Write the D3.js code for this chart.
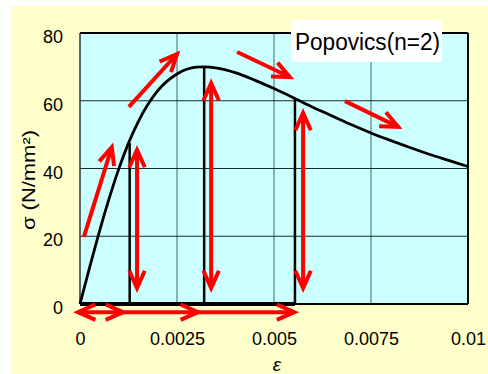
<!DOCTYPE html>
<html><head><meta charset="utf-8">
<script src="https://cdn.jsdelivr.net/npm/d3@7"></script>
<style>body{margin:0;background:#fff}svg{display:block}text{font-family:"Liberation Sans",Arial,sans-serif}</style>
</head><body><svg id="c" width="488" height="374"></svg>
<script>
// strain values (ε) and stress values (σ, N/mm²) of the Popovics curve (n=2)
const strain = [0,0.00025,0.0005,0.00075,0.001,0.00125,0.0015,0.002,0.0025,0.003,0.0032,0.0035,0.004,0.0045,0.005,0.0055,0.006,0.0065,0.007,0.0075,0.008,0.0085,0.009,0.0095,0.01];
const stress = [0,10.9,21.4,31.1,39.9,47.5,53.8,62.9,67.9,69.9,70.0,69.7,68.3,66.1,63.6,60.9,58.1,55.5,52.9,50.5,48.3,46.2,44.2,42.4,40.6];
// unloading verticals: strain and stress at top
const dropStrain = [0.00128,0.0032,0.00554];
const dropStress = [47.5,70.0,60.6];
// red arrow annotations
const arrowFrom = [[0.0001,19.8],[0.00147,4.7],[0.00126,58.2],[0.00338,4.7],[0.00405,74.4],[0.00575,4.7],[0.00683,59.9]];
const arrowTo   = [[0.00082,46.3],[0.00147,45.5],[0.0025,73.8],[0.00338,65.2],[0.00541,67.0],[0.00575,56.4],[0.0082,52.3]];
const arrowDouble = [false,true,false,true,false,true,false];
// bottom horizontal arrow chain (σ = -2.4)
const chainStrain = [-0.00005,0.00111,0.00304,0.00552];
const chainStress = -2.4;
const xTicks = [0,0.0025,0.005,0.0075,0.01];
const xTickLabels = ["0","0.0025","0.005","0.0075","0.01"];
const yTicks = [0,20,40,60,80];
const legendText = "Popovics(n=2)";

const svg = d3.select("#c");
const L=80,R=468,T=33,B=304;
const x = d3.scaleLinear().domain([0,0.01]).range([L,R]);
const y = d3.scaleLinear().domain([0,80]).range([B,T]);

svg.append("rect").attr("x",11).attr("y",6).attr("width",477).attr("height",368).attr("fill","#FFFFCC");
svg.append("rect").attr("x",L).attr("y",T).attr("width",R-L).attr("height",B-T).attr("fill","#CCFFFF");

// grid
svg.append("g").selectAll("line").data(xTicks.slice(1,-1)).join("line")
  .attr("x1",d=>x(d)).attr("x2",d=>x(d)).attr("y1",T).attr("y2",B)
  .attr("stroke","#5f7f7f").attr("stroke-width",1.2);
svg.append("g").selectAll("line").data(yTicks.slice(1,-1)).join("line")
  .attr("x1",L).attr("x2",R).attr("y1",d=>y(d)).attr("y2",d=>y(d))
  .attr("stroke","#1a2a2a").attr("stroke-width",1.2);

// border
svg.append("line").attr("x1",L).attr("x2",R).attr("y1",T).attr("y2",T).attr("stroke","#000").attr("stroke-width",2);
svg.append("line").attr("x1",R).attr("x2",R).attr("y1",T).attr("y2",B).attr("stroke","#000").attr("stroke-width",2);
svg.append("line").attr("x1",L).attr("x2",L).attr("y1",T).attr("y2",B).attr("stroke","#333").attr("stroke-width",1.5);
svg.append("line").attr("x1",L).attr("x2",R).attr("y1",B).attr("y2",B).attr("stroke","#000").attr("stroke-width",2);

// axes
const fs=18;
const ya = svg.append("g").attr("transform",`translate(${L},0)`)
  .call(d3.axisLeft(y).tickValues(yTicks).tickSize(0).tickPadding(17).tickFormat(d3.format("d")));
ya.select(".domain").remove();
ya.selectAll("text").attr("font-size",fs).attr("dy","0.54em").attr("fill","#000").style("font-family","'Liberation Sans',Arial");
const xa = svg.append("g").attr("transform",`translate(0,${B})`)
  .call(d3.axisBottom(x).tickValues(xTicks).tickSize(0).tickPadding(28).tickFormat((d,i)=>xTickLabels[i]));
xa.select(".domain").remove();
xa.selectAll("text").attr("font-size",fs).attr("fill","#000").style("font-family","'Liberation Sans',Arial");

svg.append("text").attr("transform","translate(35,180) rotate(-90)").attr("text-anchor","middle")
  .attr("font-size",18).attr("textLength",100).attr("lengthAdjust","spacingAndGlyphs").text("σ (N/mm²)");
svg.append("text").attr("x",277).attr("y",371).attr("text-anchor","middle").attr("font-size",19).attr("font-style","italic").text("ε");

// thick baseline of unloading path
svg.append("line").attr("x1",x(0)).attr("x2",x(dropStrain[2])).attr("y1",y(0)).attr("y2",y(0))
  .attr("stroke","#000").attr("stroke-width",4);
// unloading verticals
svg.append("g").selectAll("line").data(dropStrain).join("line")
  .attr("x1",d=>x(d)).attr("x2",d=>x(d)).attr("y1",y(0)).attr("y2",(d,i)=>y(dropStress[i]))
  .attr("stroke","#000").attr("stroke-width",2.5);

// curve
const line = d3.line().x((d,i)=>x(strain[i])).y((d,i)=>y(stress[i])).curve(d3.curveMonotoneX);
svg.append("path").attr("d",line(strain)).attr("fill","none").attr("stroke","#000").attr("stroke-width",2.8);

// arrows
const red="#FF0000";
function head(g,px,py,ang){
  const len=19, spread=0.42;
  const p1=[px-len*Math.cos(ang-spread), py-len*Math.sin(ang-spread)];
  const p2=[px-len*Math.cos(ang+spread), py-len*Math.sin(ang+spread)];
  g.append("path").attr("d",`M${p1[0]},${p1[1]}L${px},${py}L${p2[0]},${p2[1]}`)
    .attr("fill","none").attr("stroke",red).attr("stroke-width",4).attr("stroke-linejoin","miter");
}
const ag = svg.append("g");
arrowFrom.forEach((f,i)=>{
  const t=arrowTo[i];
  const x1=x(f[0]),y1=y(f[1]),x2=x(t[0]),y2=y(t[1]);
  ag.append("line").attr("x1",x1).attr("y1",y1).attr("x2",x2).attr("y2",y2).attr("stroke",red).attr("stroke-width",4);
  const a=Math.atan2(y2-y1,x2-x1);
  head(ag,x2,y2,a);
  if(arrowDouble[i]) head(ag,x1,y1,a+Math.PI);
});
const cy=y(chainStress);
ag.append("line").attr("x1",x(chainStrain[0])).attr("x2",x(chainStrain[3])).attr("y1",cy).attr("y2",cy).attr("stroke",red).attr("stroke-width",4);
head(ag,x(chainStrain[0]),cy,Math.PI);
chainStrain.slice(1).forEach(s=>head(ag,x(s),cy,0));

// legend
svg.append("rect").attr("x",291).attr("y",20).attr("width",151).attr("height",42).attr("fill","#fff");
svg.append("text").attr("x",295).attr("y",50).attr("font-size",23).attr("textLength",145).attr("lengthAdjust","spacingAndGlyphs").text(legendText);
</script></body></html>
